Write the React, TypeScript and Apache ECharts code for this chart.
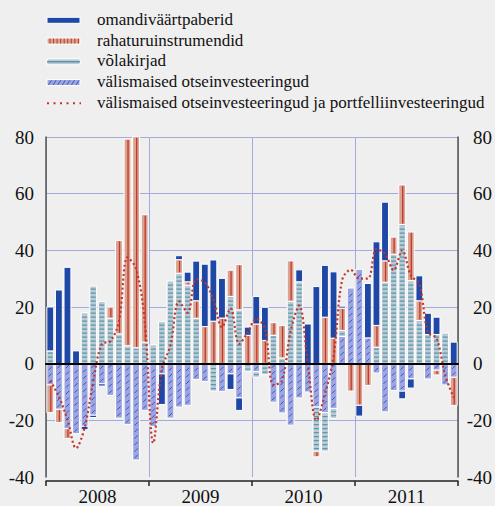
import React, { useEffect, useRef } from "react";
import * as echarts from "echarts";

// ---------- DATA ----------
const years = ["2008", "2009", "2010", "2011"];
const months = years.flatMap((y) =>
  Array.from({ length: 12 }, (_, m) => `${y}-${String(m + 1).padStart(2, "0")}`)
);

const seriesNames = [
  "omandiväärtpaberid",
  "rahaturuinstrumendid",
  "võlakirjad",
  "välismaised otseinvesteeringud",
  "välismaised otseinvesteeringud ja portfelliinvesteeringud",
];

const omandi = [
  15.5, 26, 34, 4.5, -1.2, -0.8, -0.8, 0, 0, 0, 0, 0,
  0, -10.8, 0, 1.4, 3.4, 14, 22, 21.6, 14, -5.5, -4.4, 2.9,
  9.7, 11.7, 0, 0, 0, 4.2, 14, 27.2, 18.3, 23.4, 0.7, 0,
  -3.8, 19.2, 29.5, 20.7, 0, -2.7, -3.2, 8.8, 7.5, 6.1, 0, 7.6,
];
const rahaturu = [
  -9.8, -4.7, -3.5, 0, 0, 0, 0, 4, 33, 73, 74.5, 45,
  0, 0, 0, 4.8, 1.2, 6.2, 13.1, 15, 16.1, 9.3, 16, 10,
  14, 8.2, 4.5, 11.5, 14.3, 0, 0, -2, 16.4, 9, 7.9, -9.7,
  -14.7, -7.7, 7.7, 7.6, 6.1, 14, 17.2, 7, 0, -1.7, 0, -10,
];
const volakirjad = [
  4.5, 0, 0, 0, 18, 27.4, 22, 16, 10.5, 6.3, 5.6, 7.6,
  6.7, 14.9, 29.2, 31.9, 27.7, 16, 0, -9.7, 0, 23.7, 19, -2.8,
  -2, -3.9, 10, 2, 22, 28.9, 0, -15.6, -13.6, -3.5, 2.1, 0,
  0, 0, 5.8, 28.7, 38.6, 49.1, 29.3, 15.2, 10.3, 10.3, 10.8, 0,
];
const valis = [
  -7.5, -16.1, -22.9, -24.7, -22.1, -18.2, -7.1, -11.2, -19.2, -21.5, -34, -16.5,
  -22.2, -3.6, -19.2, -15.3, -14.7, -5.6, -6.3, 0, -9.8, -3.6, -12.1, 0,
  -2.8, 0, -13.6, -17.4, -21.7, -12.1, -10, -15.3, -17.3, -15.8, 9.6, 26.7,
  33.3, 9.1, -3.3, -17, -9.5, -9.7, -5.4, 0, -5.4, -2.3, -7.5, -4.8,
];
const kokku = [
  -6, -11.6, -19.8, -29.8, -22.6, -6.3, 7, 7.9, 15, 37.5, 33.5, 15,
  -28, -2, 6.5, 22, 18, 29.8, 28.7, 22.6, 12.9, 19.5, 7, 11,
  15.8, 12.5, -7.5, -6, 11.5, 20.5, 0, -20, -10.8, 2.5, 29.5, 33.1,
  30, 30, 40.4, 38.8, 33, 40, 31.2, 28, 11, 9, -4, -12,
];

const yMin = -40;
const yMax = 80;
const yStep = 20;

// ---------- STYLE ----------
const BG = "#efefef";
const GRID = "#a4abda";
const FONT = "'Liberation Serif', 'Times New Roman', serif";
const C_OMANDI = "#1f47a6";
const C_RAHA = "#d8a392";
const C_RAHA_LINE = "#c4372a";
const C_VOL = "#b9ccd5";
const C_VOL_LINE = "#5e93a8";
const C_VALIS = "#9ca5df";
const C_VALIS_LINE = "#3a55c6";
const C_LINE = "#c4352a";

// stacking order, from zero outward
const stackOrder = [valis, volakirjad, rahaturu, omandi];
const stackKinds = ["valis", "vol", "raha", "omandi"];
const stackNames = [seriesNames[3], seriesNames[2], seriesNames[1], seriesNames[0]];

function makeRender(k: number) {
  const kind = stackKinds[k];
  return (params: any, api: any) => {
    const i = api.value(0);
    const v = api.value(1);
    if (!v) return null;
    let base = 0;
    for (let j = 0; j < k; j++) {
      const w = stackOrder[j][i];
      if ((v > 0 && w > 0) || (v < 0 && w < 0)) base += w;
    }
    const p0 = api.coord([i, base]);
    const p1 = api.coord([i, base + v]);
    const slot = api.size([1, 0])[0];
    const bw = slot * 0.8;
    const cx = p0[0];
    const x = cx - bw / 2;
    const yTop = Math.min(p0[1], p1[1]);
    const h = Math.abs(p1[1] - p0[1]);
    const fill =
      kind === "omandi" ? C_OMANDI : kind === "raha" ? C_RAHA : kind === "vol" ? C_VOL : C_VALIS;
    const children: any[] = [
      {
        type: "rect",
        shape: { x, y: yTop, width: bw, height: h },
        style: { fill, stroke: "#ffffff", lineWidth: 1 },
      },
    ];
    if (kind === "raha" && h > 2) {
      children.push({
        type: "line",
        shape: { x1: cx + 0.5, y1: yTop + 1, x2: cx + 0.5, y2: yTop + h - 1 },
        style: { stroke: C_RAHA_LINE, lineWidth: 1.3 },
      });
    }
    if (kind === "vol" && h > 3) {
      children.push({
        type: "line",
        shape: { x1: cx, y1: yTop + h - 2, x2: cx, y2: yTop + 1 },
        style: { stroke: C_VOL_LINE, lineWidth: 5, lineDash: [1.2, 2.8] },
      });
    }
    if (kind === "valis" && h > 5) {
      const yb = yTop + h;
      for (let yy = yb - 3.5; yy - 2 > yTop; yy -= 6.5) {
        children.push({
          type: "line",
          shape: { x1: cx - 1.6, y1: yy + 1.6, x2: cx + 1.6, y2: yy - 1.6 },
          style: { stroke: C_VALIS_LINE, lineWidth: 1 },
        });
      }
    }
    return { type: "group", children };
  };
}

// ---------- LEGEND (graphic) ----------
function legendElements() {
  const els: any[] = [];
  const x0 = 47;
  const w = 33;
  const top = 20.3;
  const step = 20.75;
  const fills = [C_OMANDI, C_RAHA, C_VOL, C_VALIS];
  seriesNames.forEach((name, k) => {
    const cy = top + k * step;
    if (k < 4) {
      els.push({
        type: "rect",
        shape: { x: x0, y: cy - 3, width: w, height: 6 },
        style: { fill: fills[k], stroke: "#ffffff", lineWidth: 1 },
      });
      if (k === 1) {
        for (let s = 0; s < 9; s++) {
          const xx = 50 + s * 3.55;
          els.push({
            type: "line",
            shape: { x1: xx, y1: cy - 2.5, x2: xx, y2: cy + 2.5 },
            style: { stroke: C_RAHA_LINE, lineWidth: 1 },
          });
        }
      }
      if (k === 2) {
        els.push({
          type: "line",
          shape: { x1: x0, y1: cy, x2: x0 + w, y2: cy },
          style: { stroke: C_VOL_LINE, lineWidth: 1.6 },
        });
      }
      if (k === 3) {
        for (let s = 0; s < 7; s++) {
          const xx = 48.5 + s * 4.6;
          els.push({
            type: "line",
            shape: { x1: xx, y1: cy + 2.3, x2: xx + 3, y2: cy - 2.3 },
            style: { stroke: C_VALIS_LINE, lineWidth: 1 },
          });
        }
      }
    } else {
      els.push({
        type: "line",
        shape: { x1: x0, y1: cy, x2: x0 + w + 1, y2: cy },
        style: { stroke: C_LINE, lineWidth: 2, lineDash: [2, 4.5] },
      });
    }
    els.push({
      type: "text",
      x: 97,
      y: cy - 1,
      style: {
        text: name,
        fontSize: 17,
        fontFamily: FONT,
        fill: "#111111",
        verticalAlign: "middle",
        align: "left",
      },
    });
  });
  return els;
}

function buildOption(): any {
  return {
    animation: false,
    backgroundColor: BG,
    textStyle: { fontFamily: FONT },
    grid: { left: 46, right: 36, top: 137, bottom: 27, containLabel: false },
    graphic: { elements: legendElements() },
    xAxis: [
      {
        type: "category",
        data: months,
        position: "bottom",
        boundaryGap: true,
        z: 10,
        axisLine: { show: true, onZero: true, lineStyle: { color: "#000000", width: 2 } },
        axisTick: { show: false },
        axisLabel: { show: false },
        splitLine: { show: false },
      },
      {
        type: "category",
        data: years,
        position: "bottom",
        offset: 4,
        boundaryGap: true,
        axisLine: { show: true, onZero: false, lineStyle: { color: "#222222", width: 1.5 } },
        axisTick: { show: true, interval: 0, length: 5, lineStyle: { color: "#222222", width: 1.5 } },
        axisLabel: { show: true, interval: 0, fontSize: 19, fontFamily: FONT, color: "#111111", margin: 6 },
        splitLine: { show: true, interval: 0, lineStyle: { color: GRID, width: 1 } },
      },
    ],
    yAxis: [
      {
        type: "value",
        position: "left",
        min: yMin,
        max: yMax,
        interval: yStep,
        axisLine: { show: true, lineStyle: { color: "#555555", width: 1.5 } },
        axisTick: { show: false },
        axisLabel: { fontSize: 19, fontFamily: FONT, color: "#111111", margin: 12 },
        splitLine: { show: true, showMinLine: false, lineStyle: { color: GRID, width: 1 } },
      },
      {
        type: "value",
        position: "right",
        min: yMin,
        max: yMax,
        interval: yStep,
        axisLine: { show: true, lineStyle: { color: "#555555", width: 1.5 } },
        axisTick: { show: false },
        axisLabel: {
          fontSize: 19,
          fontFamily: FONT,
          color: "#111111",
          align: "right",
          margin: 34,
          formatter: (v: number) => (v === 0 ? "0{p| }" : String(v)),
          rich: { p: { width: 9.5, fontSize: 19, fontFamily: FONT } },
        },
        splitLine: { show: false },
      },
    ],
    series: [
      ...stackOrder.map((arr, k) => ({
        type: "custom",
        name: stackNames[k],
        xAxisIndex: 0,
        yAxisIndex: 0,
        data: arr.map((v, i) => [i, v]),
        encode: { x: 0, y: 1 },
        renderItem: makeRender(k),
        z: 2,
      })),
      {
        type: "line",
        name: seriesNames[4],
        xAxisIndex: 0,
        yAxisIndex: 0,
        data: kokku,
        smooth: 0.35,
        symbol: "none",
        lineStyle: { color: C_LINE, width: 2.2, type: [2, 2.6] },
        z: 5,
      },
    ],
  };
}

export default function App() {
  const ref = useRef<HTMLDivElement>(null);
  useEffect(() => {
    if (!ref.current) return;
    const chart = echarts.init(ref.current, null, { renderer: "svg" });
    chart.setOption(buildOption());
    return () => chart.dispose();
  }, []);
  return (
    <div style={{ position: "absolute", left: 0, top: 0, width: 495, height: 506, background: BG }}>
      <div ref={ref} style={{ width: 495, height: 506 }} />
    </div>
  );
}
